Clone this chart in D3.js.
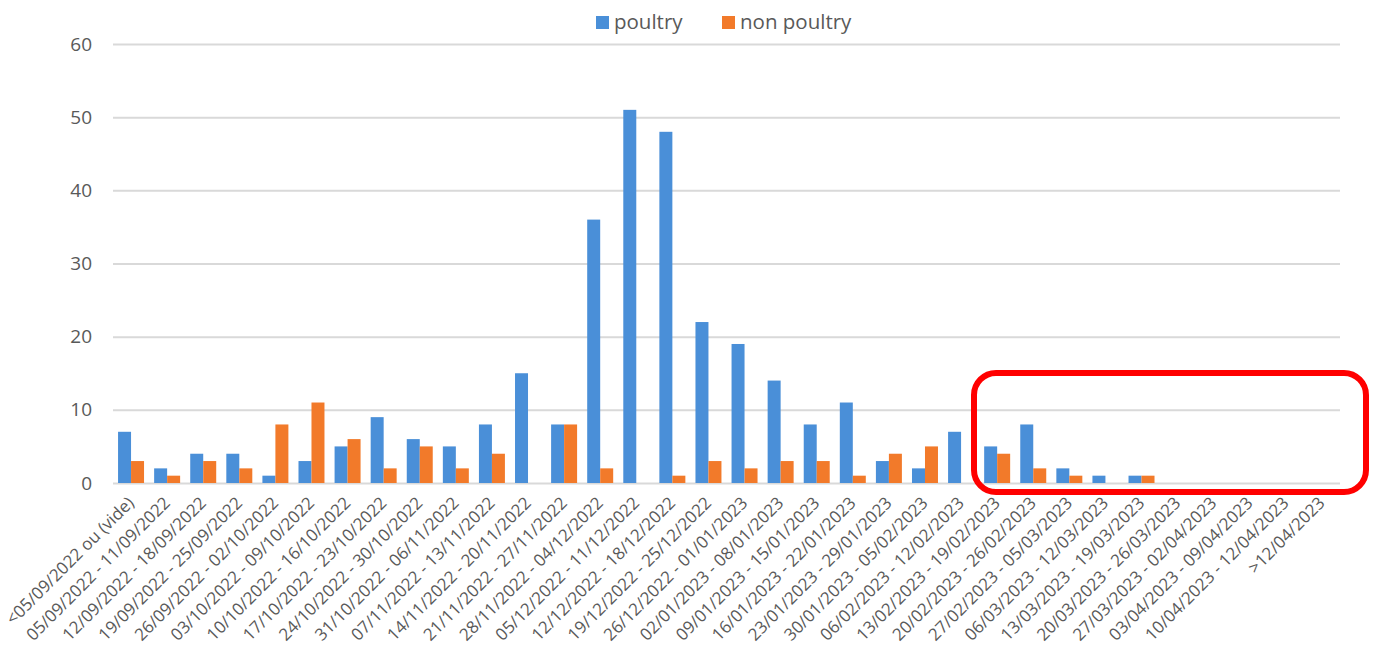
<!DOCTYPE html>
<html>
    <head>
        <meta charset="utf-8" />
        <title>Poultry / non poultry</title>
        <script src="https://d3js.org/d3.v7.min.js"></script>
        <style>
            body {
                margin: 0;
                background: #fff;
            }
            * {
                font-family: 'Open Sans', sans-serif;
            }
            .grid line {
                stroke: #d9d9d9;
                stroke-width: 2px;
            }
            .grid path {
                display: none;
            }
        </style>
    </head>
    <body>
        <script>
            const categories = [
                '<05/09/2022 ou (vide)', '05/09/2022 - 11/09/2022', '12/09/2022 - 18/09/2022',
                '19/09/2022 - 25/09/2022', '26/09/2022 - 02/10/2022', '03/10/2022 - 09/10/2022',
                '10/10/2022 - 16/10/2022', '17/10/2022 - 23/10/2022', '24/10/2022 - 30/10/2022',
                '31/10/2022 - 06/11/2022', '07/11/2022 - 13/11/2022', '14/11/2022 - 20/11/2022',
                '21/11/2022 - 27/11/2022', '28/11/2022 - 04/12/2022', '05/12/2022 - 11/12/2022',
                '12/12/2022 - 18/12/2022', '19/12/2022 - 25/12/2022', '26/12/2022 - 01/01/2023',
                '02/01/2023 - 08/01/2023', '09/01/2023 - 15/01/2023', '16/01/2023 - 22/01/2023',
                '23/01/2023 - 29/01/2023', '30/01/2023 - 05/02/2023', '06/02/2023 - 12/02/2023',
                '13/02/2023 - 19/02/2023', '20/02/2023 - 26/02/2023', '27/02/2023 - 05/03/2023',
                '06/03/2023 - 12/03/2023', '13/03/2023 - 19/03/2023', '20/03/2023 - 26/03/2023',
                '27/03/2023 - 02/04/2023', '03/04/2023 - 09/04/2023', '10/04/2023 - 12/04/2023',
                '>12/04/2023'
            ];
            const poultry = [7, 2, 4, 4, 1, 3, 5, 9, 6, 5, 8, 15, 8, 36, 51, 48, 22, 19, 14, 8, 11, 3, 2, 7, 5, 8, 2, 1, 1, 0, 0, 0, 0, 0];
            const nonPoultry = [3, 1, 3, 2, 8, 11, 6, 2, 5, 2, 4, 0, 8, 2, 0, 1, 3, 2, 3, 3, 1, 4, 5, 0, 4, 2, 1, 0, 1, 0, 0, 0, 0, 0];
            const seriesNames = ['poultry', 'non poultry'];
            const yTicks = [0, 10, 20, 30, 40, 50, 60];

            const W = 1376, H = 646;
            const m = { left: 113, right: 1340, top: 44, bottom: 483 };
            const colors = { 'poultry': '#4a8fd8', 'non poultry': '#f27a2a' };

            const svg = d3.select('body').append('svg').attr('width', W).attr('height', H);

            const x = d3.scaleBand().domain(categories).range([m.left, m.right]).paddingInner(0.28).paddingOuter(0.14);
            const xs = d3.scaleBand().domain(seriesNames).range([0, x.bandwidth()]);
            const y = d3.scaleLinear().domain([0, 60]).range([m.bottom, m.top]);

            // gridlines
            svg.append('g')
                .attr('class', 'grid')
                .attr('transform', `translate(${m.left},0)`)
                .call(d3.axisLeft(y).tickValues(yTicks).tickSize(-(m.right - m.left)).tickFormat(''));

            // y labels
            svg.append('g')
                .selectAll('text')
                .data(yTicks)
                .join('text')
                .attr('x', 92)
                .attr('y', (d) => y(d))
                .attr('dy', '0.35em')
                .attr('text-anchor', 'end')
                .attr('font-size', 19)
                .attr('fill', '#595959')
                .text((d) => d);

            const rows = categories.map((c, i) => ({ cat: c, values: [poultry[i], nonPoultry[i]] }));

            svg.append('g')
                .selectAll('g')
                .data(rows)
                .join('g')
                .attr('transform', (d) => `translate(${x(d.cat)},0)`)
                .selectAll('rect')
                .data((d) => d.values.map((v, k) => ({ key: seriesNames[k], value: v })))
                .join('rect')
                .attr('x', (d) => xs(d.key))
                .attr('width', xs.bandwidth())
                .attr('y', (d) => y(d.value))
                .attr('height', (d) => y(0) - y(d.value))
                .attr('fill', (d) => colors[d.key]);

            // x labels
            svg.append('g')
                .selectAll('text')
                .data(categories)
                .join('text')
                .attr('transform', (d) => `translate(${x(d) + x.bandwidth() / 2 + 4},${m.bottom + 21}) rotate(-45)`)
                .attr('text-anchor', 'end')
                .attr('font-size', 17)
                .attr('fill', '#595959')
                .text((d) => d);

            // legend
            const legend = svg.append('g');
            const legendX = [596, 722];
            seriesNames.forEach((s, i) => {
                legend.append('rect')
                    .attr('x', legendX[i])
                    .attr('y', 16)
                    .attr('width', 13)
                    .attr('height', 13)
                    .attr('fill', colors[s]);
                legend.append('text')
                    .attr('x', legendX[i] + 18)
                    .attr('y', 22)
                    .attr('dy', '0.35em')
                    .attr('font-size', 20.5)
                    .attr('fill', '#595959')
                    .text(s);
            });

            // highlight box
            svg.append('rect')
                .attr('x', 974)
                .attr('y', 373)
                .attr('width', 392)
                .attr('height', 119)
                .attr('rx', 22)
                .attr('fill', 'none')
                .attr('stroke', '#ff0000')
                .attr('stroke-width', 6);
        </script>
    </body>
</html>
